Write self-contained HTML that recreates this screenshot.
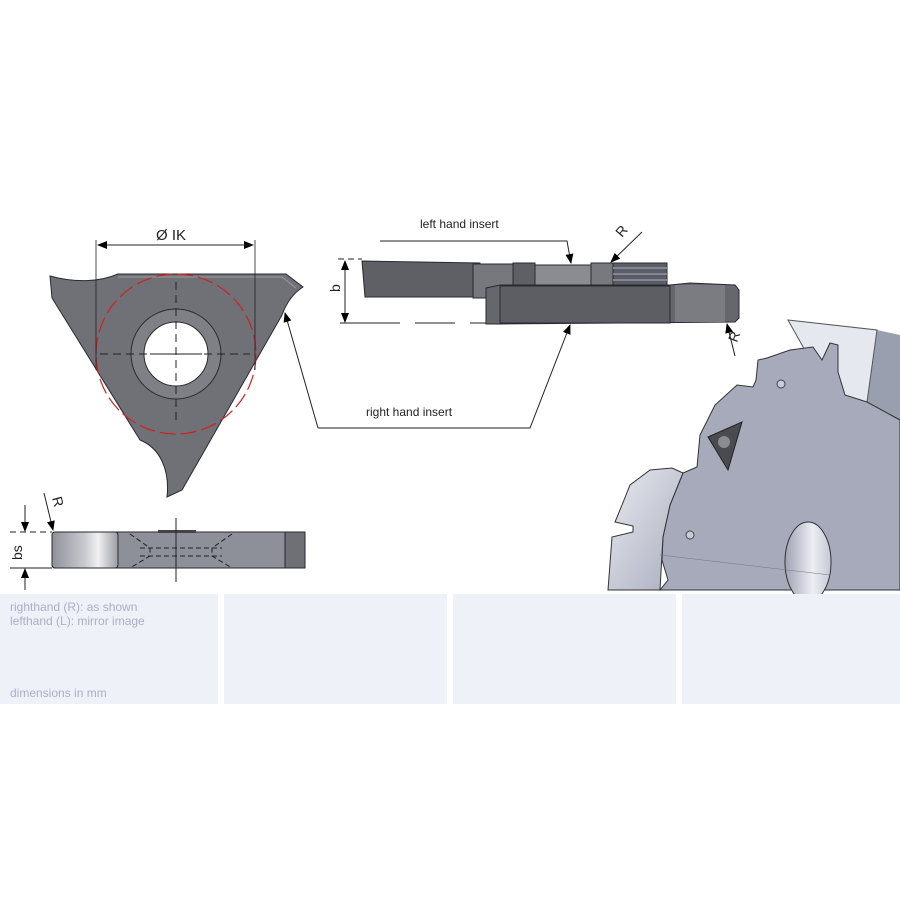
<!DOCTYPE html>
<html><head><meta charset="utf-8"><style>
html,body{margin:0;padding:0;background:#fff;}
svg{display:block}
text{font-family:"Liberation Sans",sans-serif}
</style></head><body>
<svg width="900" height="900" viewBox="0 0 900 900" xmlns="http://www.w3.org/2000/svg">
<defs>
<linearGradient id="lg1" x1="0" x2="1"><stop offset="0" stop-color="#8e9198"/><stop offset="0.5" stop-color="#c9cbd0"/><stop offset="0.7" stop-color="#f0f0f2"/><stop offset="1" stop-color="#9a9ca2"/></linearGradient>
<linearGradient id="lg2" x1="0" x2="1" y1="0" y2="1"><stop offset="0" stop-color="#e8eaf0"/><stop offset="1" stop-color="#a9adbd"/></linearGradient>
<linearGradient id="hole" x1="0" x2="1"><stop offset="0" stop-color="#9ea3b3"/><stop offset="0.6" stop-color="#eceef3"/><stop offset="1" stop-color="#c5c9d4"/></linearGradient>
<marker id="ar" markerWidth="10" markerHeight="8" refX="9" refY="4" orient="auto" markerUnits="userSpaceOnUse"><path d="M0,0 L10,4 L0,8 z" fill="#000"/></marker>
</defs>

<!-- triangle insert -->
<path d="M50,276 C75,283 100,282 118,274 L286,274 L303,287 C292,294 286,304 282,315 L182,490 L167,497 C170,470 160,448 140,440 L52,298 Z" fill="#6f7177" stroke="#2a2a2e" stroke-width="1"/>
<path d="M118,277 L282,277 L296,288" fill="none" stroke="#9a9ca2" stroke-width="1"/>
<circle cx="176" cy="354" r="80" fill="none" stroke="#d02020" stroke-width="1.2" stroke-dasharray="16 5"/>
<circle cx="176" cy="354" r="45" fill="#7e8086" stroke="#2a2a2e"/>
<circle cx="176" cy="354" r="32" fill="#fff" stroke="#2a2a2e"/>
<line x1="176" y1="282" x2="176" y2="425" stroke="#222" stroke-dasharray="8 5"/>
<line x1="100" y1="354" x2="250" y2="354" stroke="#222" stroke-dasharray="8 5"/>
<line x1="150" y1="354" x2="202" y2="354" stroke="#222"/>
<line x1="96" y1="240" x2="96" y2="370" stroke="#222" stroke-width="0.8"/>
<line x1="255" y1="240" x2="255" y2="370" stroke="#222" stroke-width="0.8"/>
<line x1="98" y1="245" x2="253" y2="245" stroke="#222" marker-end="url(#ar)"/>
<line x1="253" y1="245" x2="98" y2="245" stroke="#222" marker-end="url(#ar)"/>
<text x="156" y="240" font-size="15" fill="#222">Ø IK</text>

<!-- bottom side view -->
<rect x="52" y="532" width="253" height="36" rx="3" fill="#8d9098" stroke="#2a2a2e"/>
<rect x="52" y="532" width="66" height="36" rx="3" fill="url(#lg1)" stroke="#2a2a2e"/>
<rect x="285" y="532" width="20" height="36" fill="#6e7076" stroke="#2a2a2e"/>
<rect x="158" y="530" width="38" height="3" fill="#444"/>
<path d="M130,534 L150,548 L150,556 L130,568 M232,534 L212,548 L212,556 L232,568 M140,548 L222,548 M140,556 L222,556" fill="none" stroke="#222" stroke-dasharray="5 3"/>
<line x1="176" y1="518" x2="176" y2="582" stroke="#222"/>
<line x1="10" y1="532" x2="52" y2="532" stroke="#222" stroke-dasharray="6 4"/>
<line x1="10" y1="568" x2="52" y2="568" stroke="#222"/>
<line x1="25" y1="505" x2="25" y2="531" stroke="#222" marker-end="url(#ar)"/>
<line x1="25" y1="590" x2="25" y2="569" stroke="#222" marker-end="url(#ar)"/>
<text x="0" y="0" font-size="14" fill="#222" transform="translate(22,560) rotate(-90)">bs</text>
<line x1="44" y1="493" x2="53" y2="530" stroke="#222" marker-end="url(#ar)"/>
<text x="0" y="0" font-size="14" fill="#222" transform="translate(52,498) rotate(75)">R</text>

<!-- middle inserts -->
<path d="M362,261 L480,263 L480,297 L365,297 Z" fill="#5e6066" stroke="#2a2a2e"/>
<rect x="473" y="264" width="45" height="34" fill="#76787e" stroke="#2a2a2e"/>
<rect x="513" y="263" width="22" height="34" fill="#5e6066" stroke="#2a2a2e"/>
<rect x="535" y="265" width="56" height="32" fill="#8a8c92" stroke="#2a2a2e"/>
<rect x="591" y="263" width="22" height="34" fill="#77797f" stroke="#2a2a2e"/>
<rect x="613" y="263" width="54" height="24" fill="#5a5d66" stroke="#2a2a2e"/>
<path d="M613,268 H667 M613,274 H667 M613,280 H667" stroke="#9095a2" stroke-width="1.5"/>
<path d="M486,288 L500,285 L670,285 L690,283 L735,285 L739,290 L739,318 L735,322 L500,324 L486,324 Z" fill="#65676d" stroke="#2a2a2e"/>
<rect x="500" y="286" width="170" height="37" fill="#5c5e64" stroke="#2a2a2e"/>
<rect x="675" y="285" width="50" height="37" fill="#7a7c82"/>
<line x1="338" y1="259" x2="362" y2="259" stroke="#222" stroke-dasharray="6 4"/>
<path d="M340,323 L400,323 M415,323 L455,323 M470,323 L486,323" stroke="#222"/>
<line x1="345" y1="290" x2="345" y2="261" stroke="#222" marker-end="url(#ar)"/>
<line x1="345" y1="290" x2="345" y2="322" stroke="#222" marker-end="url(#ar)"/>
<text x="0" y="0" font-size="14" fill="#222" transform="translate(340,292) rotate(-90)">b</text>
<text x="420" y="228" font-size="12" fill="#222">left hand insert</text>
<path d="M380,241 L567,241 L571,263" fill="none" stroke="#222" marker-end="url(#ar)"/>
<line x1="642" y1="232" x2="611" y2="262" stroke="#222" marker-end="url(#ar)"/>
<text x="0" y="0" font-size="14" fill="#222" transform="translate(622,238) rotate(-50)">R</text>
<line x1="735" y1="356" x2="727" y2="324" stroke="#222" marker-end="url(#ar)"/>
<text x="0" y="0" font-size="14" fill="#222" transform="translate(737,343) rotate(-70)">R</text>
<text x="366" y="416" font-size="12" fill="#222">right hand insert</text>
<path d="M318,428 L530,428 L570,325" fill="none" stroke="#222" marker-end="url(#ar)"/>
<path d="M318,428 L285,313" fill="none" stroke="#222" marker-end="url(#ar)"/>

<!-- cutter -->
<polygon points="900,335 877,330 867,402 900,420" fill="#9a9fb0"/>
<polygon points="788,320 877,330 867,402 830,395" fill="#e6e8ef" stroke="#555"/>
<path d="M900,420 L867,402 L845,395 L838,372 L838,345 L830,343 L822,360 L813,347 L790,350 L767,358 L758,360 L756,380 L753,387 L737,385 L715,405 L700,435 L697,467 L683,473 L670,505 L663,537 L662,560 L668,580 L660,590 L900,590 Z" fill="#a6aabb" stroke="#333"/>
<path d="M683,473 L672,468 L650,470 L630,485 L622,505 L615,522 L633,526 L633,532 L612,537 L608,590 L660,590 L663,537 L670,505 Z" fill="url(#lg2)" stroke="#333"/>
<ellipse cx="808" cy="562" rx="23" ry="40" fill="url(#hole)" stroke="#333"/>
<polygon points="708,437 742,422 728,470" fill="#4a4b50" stroke="#222"/>
<circle cx="724" cy="442" r="6" fill="#8a8c92"/>
<circle cx="781" cy="384" r="4" fill="#c9ccd8" stroke="#444"/>
<circle cx="690" cy="535" r="4" fill="#c9ccd8" stroke="#444"/>
<line x1="660" y1="555" x2="830" y2="575" stroke="#777" stroke-width="0.6"/>

<!-- bottom panels -->
<rect x="0" y="594" width="218" height="110" fill="#eef1f7"/>
<rect x="224" y="594" width="223" height="110" fill="#eef1f7"/>
<rect x="453" y="594" width="223" height="110" fill="#eef1f7"/>
<rect x="682" y="594" width="218" height="110" fill="#eef1f7"/>
<text x="10" y="611" font-size="12" fill="#a9afc6">righthand (R): as shown</text>
<text x="10" y="625" font-size="12" fill="#a9afc6">lefthand (L): mirror image</text>
<text x="10" y="697" font-size="12" fill="#a9afc6">dimensions in mm</text>
</svg>
</body></html>
